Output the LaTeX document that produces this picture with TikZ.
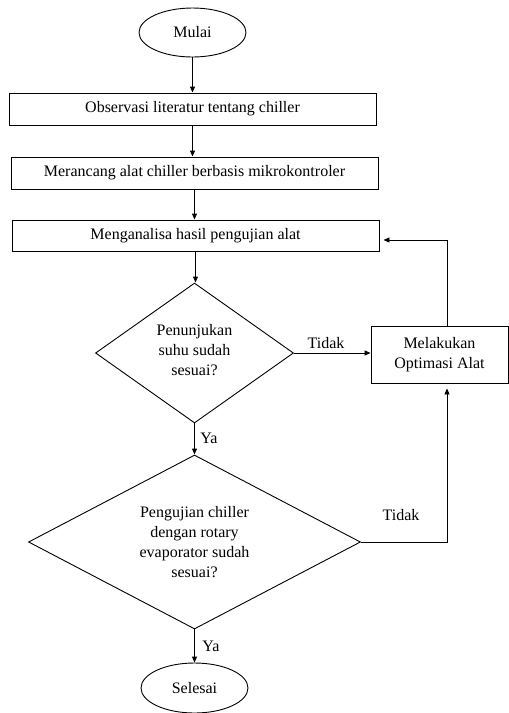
\documentclass[tikz,border=0pt]{standalone}
\usepackage{fontspec}
\setmainfont{Liberation Serif}
\usetikzlibrary{shapes.geometric,arrows.meta}
\begin{document}
\begin{tikzpicture}[x=1pt,y=-1pt,
  font=\fontsize{16}{20}\selectfont,
  box/.style={draw, rectangle, line width=0.9pt, inner sep=0pt, align=center},
  term/.style={draw, ellipse, line width=0.9pt, minimum width=107pt, minimum height=49pt, inner sep=0pt},
  decision/.style={draw, diamond, line width=0.9pt, inner sep=0pt, align=center},
  arr/.style={-{Triangle[length=6pt,width=5pt]}, line width=0.9pt},
  lbl/.style={inner sep=0pt}]
\useasboundingbox (0,0) rectangle (509,713);
\node[term] (mulai) at (192.5,32.5) {Mulai};
\node[box, minimum width=367pt, minimum height=32pt] (b1) at (192.5,109) {Observasi literatur tentang chiller};
\node[box, minimum width=367pt, minimum height=32pt] (b2) at (194.5,173) {Merancang alat chiller berbasis mikrokontroler};
\node[box, minimum width=367pt, minimum height=31pt] (b3) at (195.5,235.5) {Menganalisa hasil pengujian alat};
\node[decision, minimum width=198pt, minimum height=140pt] (d1) at (194.5,353) {\\[-14pt]Penunjukan\\suhu sudah\\sesuai?};
\node[box, minimum width=137pt, minimum height=57pt] (b4) at (439.5,354.5) {Melakukan\\Optimasi Alat};
\node[decision, shape aspect=1.9, minimum width=332pt, minimum height=174pt] (d2) at (194.5,542) {Pengujian chiller\\dengan rotary\\evaporator sudah\\sesuai?};
\node[term, minimum height=50pt] (selesai) at (194.5,688) {Selesai};
\node[lbl] (tidak1) at (326,343) {Tidak};
\node[lbl] (ya1) at (209,438) {Ya};
\node[lbl] (tidak2) at (401,515) {Tidak};
\node[lbl] (ya2) at (211,646) {Ya};
\coordinate (fb) at (447,240);
\draw[arr] (mulai.south) -- (mulai.south |- b1.north);
\draw[arr] (b1.south) -- (b1.south |- b2.north);
\draw[arr] (b2.south) -- (b2.south |- b3.north);
\draw[arr] (b3.south) -- (b3.south |- d1.north);
\draw[arr] (d1.east) -- (d1.east -| b4.west);
\draw[arr] (d1.south) -- (d1.south |- d2.north);
\draw[arr] (d2.south) -- (d2.south |- selesai.north);
\draw[arr, shorten >=4pt] (b4.north -| fb) -- (fb) -- (fb -| b3.east);
\draw[arr, shorten >=5pt] (d2.east) -| (b4.south -| fb);
\end{tikzpicture}
\end{document}
